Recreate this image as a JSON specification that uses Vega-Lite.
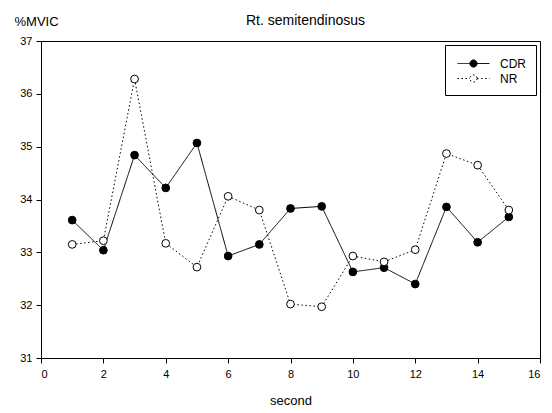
{
  "$schema": "https://vega.github.io/schema/vega-lite/v6.json",
  "autosize": {"type": "none"},
  "width": 499,
  "height": 317,
  "padding": {"left": 41, "top": 41, "right": 12, "bottom": 55},
  "background": "white",
  "title": {"text": "Rt. semitendinosus", "fontSize": 14, "fontWeight": "normal", "font": "Liberation Sans", "color": "black", "anchor": "middle", "dx": 15, "offset": -13},
  "config": {
    "view": {"stroke": "black", "strokeWidth": 1},
    "font": "Liberation Sans",
    "axis": {"grid": false, "domainColor": "black", "tickColor": "black", "labelColor": "black", "titleColor": "black", "labelFont": "Liberation Sans", "titleFont": "Liberation Sans", "labelFontSize": 11, "titleFontSize": 13, "titleFontWeight": "normal", "tickSize": 5}
  },
  "data": {"values": [
    {"second": 1, "series": "CDR", "value": 33.61},
    {"second": 2, "series": "CDR", "value": 33.04},
    {"second": 3, "series": "CDR", "value": 34.84},
    {"second": 4, "series": "CDR", "value": 34.22},
    {"second": 5, "series": "CDR", "value": 35.07},
    {"second": 6, "series": "CDR", "value": 32.93},
    {"second": 7, "series": "CDR", "value": 33.15},
    {"second": 8, "series": "CDR", "value": 33.83},
    {"second": 9, "series": "CDR", "value": 33.87},
    {"second": 10, "series": "CDR", "value": 32.63},
    {"second": 11, "series": "CDR", "value": 32.71},
    {"second": 12, "series": "CDR", "value": 32.40},
    {"second": 13, "series": "CDR", "value": 33.86},
    {"second": 14, "series": "CDR", "value": 33.19},
    {"second": 15, "series": "CDR", "value": 33.67},
    {"second": 1, "series": "NR", "value": 33.15},
    {"second": 2, "series": "NR", "value": 33.22},
    {"second": 3, "series": "NR", "value": 36.28},
    {"second": 4, "series": "NR", "value": 33.17},
    {"second": 5, "series": "NR", "value": 32.72},
    {"second": 6, "series": "NR", "value": 34.06},
    {"second": 7, "series": "NR", "value": 33.80},
    {"second": 8, "series": "NR", "value": 32.02},
    {"second": 9, "series": "NR", "value": 31.97},
    {"second": 10, "series": "NR", "value": 32.93},
    {"second": 11, "series": "NR", "value": 32.82},
    {"second": 12, "series": "NR", "value": 33.05},
    {"second": 13, "series": "NR", "value": 34.87},
    {"second": 14, "series": "NR", "value": 34.65},
    {"second": 15, "series": "NR", "value": 33.80}
  ]},
  "encoding": {
    "x": {"field": "second", "type": "quantitative", "scale": {"domain": [0, 16], "nice": false, "zero": false},
      "axis": {"values": [0, 2, 4, 6, 8, 10, 12, 14, 16], "title": "second", "titlePadding": 15, "labelPadding": 5}},
    "y": {"field": "value", "type": "quantitative", "scale": {"domain": [31, 37], "nice": false, "zero": false},
      "axis": {"values": [31, 32, 33, 34, 35, 36, 37], "title": "%MVIC", "titleAngle": 0, "titleAlign": "left", "titleBaseline": "alphabetic", "titleX": -27, "titleY": -16, "labelPadding": 4}}
  },
  "layer": [
    {
      "mark": {"type": "line", "stroke": "black", "strokeWidth": 1},
      "encoding": {
        "detail": {"field": "series"},
        "strokeDash": {"field": "series", "type": "nominal", "scale": {"domain": ["CDR", "NR"], "range": [[1, 0], [1.5, 2.5]]},
          "legend": {"title": null, "orient": "top-right", "offset": 4, "strokeColor": "black", "padding": 10, "symbolOffset": 10, "symbolType": "M-2,0H-0.45M0.45,0H2M0.45,0A0.45,0.45 0 1 1 -0.45,0A0.45,0.45 0 1 1 0.45,0Z", "symbolSize": 256, "symbolStrokeColor": "black", "symbolStrokeWidth": 1, "labelFontSize": 12, "labelColor": "black", "labelFont": "Liberation Sans", "rowPadding": 0, "labelOffset": 18}}
      }
    },
    {
      "mark": {"type": "point", "shape": "circle", "filled": false, "stroke": "black", "strokeWidth": 1, "size": 60, "opacity": 1},
      "encoding": {
        "fill": {"field": "series", "type": "nominal", "scale": {"domain": ["CDR", "NR"], "range": ["black", "white"]},
          "legend": {"title": null, "orient": "top-right", "offset": 4, "strokeColor": "black", "padding": 10, "symbolOffset": 10, "symbolType": "M-2,0H-0.45M0.45,0H2M0.45,0A0.45,0.45 0 1 1 -0.45,0A0.45,0.45 0 1 1 0.45,0Z", "symbolSize": 256, "symbolStrokeColor": "black", "symbolStrokeWidth": 1, "labelFontSize": 12, "labelColor": "black", "labelFont": "Liberation Sans", "rowPadding": 0, "labelOffset": 18}}
      }
    }
  ]
}
